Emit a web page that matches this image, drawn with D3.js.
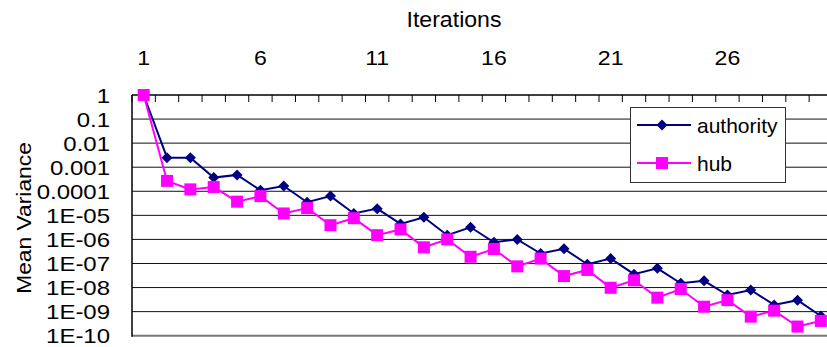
<!DOCTYPE html>
<html>
<head>
<meta charset="utf-8">
<script src="https://cdn.jsdelivr.net/npm/d3@7"></script>
<style>
  body { margin: 0; background: #fff; }
  text { font-family: "Liberation Sans", Arial, sans-serif; fill: #000; }
</style>
</head>
<body>
<div id="chart"></div>
<script>
// 迭代次数
var iterations = d3.range(1, 31);
var topTickValues = [1, 6, 11, 16, 21, 26];
// y轴刻度
var yTickValues = [1, 1e-1, 1e-2, 1e-3, 1e-4, 1e-5, 1e-6, 1e-7, 1e-8, 1e-9, 1e-10];
var yTickLabels = ["1", "0.1", "0.01", "0.001", "0.0001", "1E-05", "1E-06", "1E-07", "1E-08", "1E-09", "1E-10"];

var authority = [1, 2.5e-3, 2.5e-3, 3.7e-4, 4.8e-4, 1.1e-4, 1.66e-4, 3.5e-5, 6.3e-5, 1.2e-5,
  1.9e-5, 4.4e-6, 8.3e-6, 1.5e-6, 3.2e-6, 7.6e-7, 1.0e-6, 2.6e-7, 4.1e-7, 9.3e-8,
  1.6e-7, 3.6e-8, 6.3e-8, 1.5e-8, 1.9e-8, 4.9e-9, 7.9e-9, 1.9e-9, 3.0e-9, 6.6e-10];
var hub = [1, 2.7e-4, 1.2e-4, 1.5e-4, 3.7e-5, 6.3e-5, 1.2e-5, 2.0e-5, 3.9e-6, 7.6e-6,
  1.5e-6, 2.6e-6, 4.7e-7, 1.0e-6, 1.9e-7, 4.0e-7, 7.6e-8, 1.6e-7, 3.0e-8, 5.4e-8,
  9.8e-9, 2.0e-8, 3.8e-9, 8.7e-9, 1.6e-9, 3.0e-9, 6.2e-10, 1.1e-9, 2.4e-10, 4.1e-10];

function draw() {
  var width = 827;
  var height = 347;
  var authColor = "#000080";
  var hubColor = "#ff00ff";

  var svg = d3.select("#chart").append("svg")
    .attr("width", width)
    .attr("height", height)
    .attr("viewBox", [0, 0, width, height]);

  var left = 132, top = 95, bottom = 335.7;
  var step = 23.35;

  var x = d3.scaleBand().domain(iterations).range([left, left + step * iterations.length]).padding(0);
  var y = d3.scaleLog().domain([1e-10, 1]).range([bottom, top]);
  var cx = function (d) { return x(d) + x.bandwidth() / 2; };

  // 网格线
  svg.append("g").selectAll("line")
    .data(yTickValues.slice(1))
    .enter().append("line")
    .attr("x1", left).attr("x2", width)
    .attr("y1", y).attr("y2", y)
    .attr("stroke", function (d) { return d === 1e-10 ? "#777" : "#111"; })
    .attr("stroke-width", function (d) { return d === 1e-10 ? 2 : 1; });

  // 左轴线
  svg.append("line")
    .attr("x1", left).attr("x2", left)
    .attr("y1", top).attr("y2", bottom + 1)
    .attr("stroke", "#000").attr("stroke-width", 1.5);

  // 顶部轴 + 类别刻度
  svg.append("line")
    .attr("x1", left).attr("x2", width)
    .attr("y1", top).attr("y2", top)
    .attr("stroke", "#000").attr("stroke-width", 1.5);
  svg.append("g").selectAll("line")
    .data(iterations)
    .enter().append("line")
    .attr("x1", function (d) { return x(d); })
    .attr("x2", function (d) { return x(d); })
    .attr("y1", top).attr("y2", top + 7)
    .attr("stroke", "#000").attr("stroke-width", 1);

  var xAxis = svg.append("g")
    .attr("transform", "translate(0," + top + ")")
    .call(d3.axisTop(x).tickValues(topTickValues).tickSize(0).tickPadding(30.5));
  xAxis.select(".domain").remove();
  xAxis.selectAll("text")
    .style("font-size", "21px")
    .attr("fill", "#000")
    .attr("transform", "scale(1.1,1)");

  var yAxis = svg.append("g")
    .attr("transform", "translate(" + left + ",0)")
    .call(d3.axisLeft(y).tickValues(yTickValues).tickSize(0).tickPadding(18.3)
      .tickFormat(function (d, i) { return yTickLabels[i]; }));
  yAxis.select(".domain").remove();
  yAxis.selectAll("text")
    .style("font-size", "20px")
    .attr("fill", "#000")
    .attr("dy", "0.36em")
    .attr("transform", "scale(1.2,1)");

  // 标题
  svg.append("text")
    .attr("text-anchor", "middle")
    .attr("transform", "translate(454,26.5) scale(1.05,1)")
    .style("font-size", "22px")
    .text("Iterations");

  svg.append("text")
    .attr("text-anchor", "middle")
    .attr("transform", "translate(31,218) rotate(-90) scale(1.14,1)")
    .style("font-size", "20px")
    .text("Mean Variance");

  // 线
  var line = d3.line()
    .x(function (d, i) { return cx(iterations[i]); })
    .y(function (d) { return y(d); });

  svg.append("path").datum(authority)
    .attr("fill", "none").attr("stroke", authColor).attr("stroke-width", 2)
    .attr("d", line);
  svg.append("g").selectAll("path")
    .data(authority)
    .enter().append("path")
    .attr("d", "M0,-5.5L5.5,0L0,5.5L-5.5,0Z")
    .attr("fill", authColor)
    .attr("transform", function (d, i) { return "translate(" + cx(iterations[i]) + "," + y(d) + ")"; });

  svg.append("path").datum(hub)
    .attr("fill", "none").attr("stroke", hubColor).attr("stroke-width", 2)
    .attr("d", line);
  svg.append("g").selectAll("rect")
    .data(hub)
    .enter().append("rect")
    .attr("x", function (d, i) { return cx(iterations[i]) - 6; })
    .attr("y", function (d) { return y(d) - 6; })
    .attr("width", 12).attr("height", 12)
    .attr("fill", hubColor);

  // 图例
  var legend = svg.append("g");
  legend.append("rect")
    .attr("x", 630.5).attr("y", 107.5).attr("width", 155).attr("height", 75)
    .attr("fill", "#fff").attr("stroke", "#333").attr("stroke-width", 1);
  var items = [
    { name: "authority", color: authColor, y: 125, marker: "diamond" },
    { name: "hub", color: hubColor, y: 163, marker: "square" }
  ];
  var li = legend.selectAll("g.item").data(items).enter().append("g").attr("class", "item");
  li.append("line")
    .attr("x1", 637).attr("x2", 691)
    .attr("y1", function (d) { return d.y; }).attr("y2", function (d) { return d.y; })
    .attr("stroke", function (d) { return d.color; }).attr("stroke-width", 2);
  li.filter(function (d) { return d.marker === "diamond"; }).append("path")
    .attr("d", "M0,-5.5L5.5,0L0,5.5L-5.5,0Z")
    .attr("fill", authColor)
    .attr("transform", function (d) { return "translate(662," + d.y + ")"; });
  li.filter(function (d) { return d.marker === "square"; }).append("rect")
    .attr("x", 656).attr("y", function (d) { return d.y - 6; })
    .attr("width", 12).attr("height", 12)
    .attr("fill", hubColor);
  li.append("text")
    .attr("x", 697)
    .attr("y", function (d) { return d.y + 7.5; })
    .style("font-size", "21px")
    .text(function (d) { return d.name; });
}

draw();
</script>
</body>
</html>
